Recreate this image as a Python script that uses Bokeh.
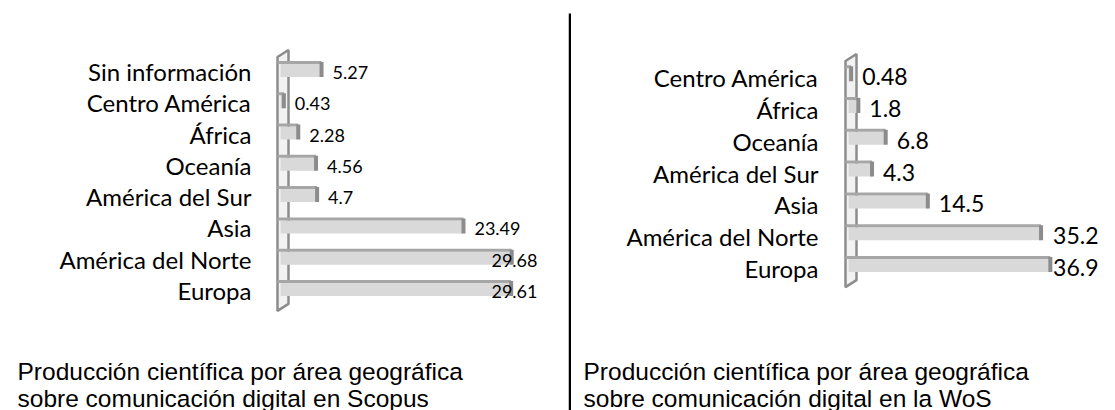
import numpy as np
from bokeh.plotting import figure
from bokeh.models import Range1d, Label
from bokeh.layouts import row
from bokeh.embed import file_html
from bokeh.resources import INLINE
from bokeh.core.properties import value

# ---------------- data ----------------
scopus_regions = ["Sin información", "Centro América", "África", "Oceanía",
                  "América del Sur", "Asia", "América del Norte", "Europa"]
scopus_values = [5.27, 0.43, 2.28, 4.56, 4.7, 23.49, 29.68, 29.61]

wos_regions = ["Centro América", "África", "Oceanía", "América del Sur",
               "Asia", "América del Norte", "Europa"]
wos_values = [0.48, 1.8, 6.8, 4.3, 14.5, 35.2, 36.9]

scopus_caption = ["Producción científica por área geográfica",
                  "sobre comunicación digital en Scopus"]
wos_caption = ["Producción científica por área geográfica",
               "sobre comunicación digital en la WoS"]

LABEL_FONT = "Lato"
CAPTION_FONT = "Liberation Sans"
BAR_FILL = "#d9d9d9"
BAR_TOP = "#a6a6a6"
BAR_CAP = "#8c8c8c"
WALL = "#8c8c8c"


def panel(regions, values, caption, W, H, X0, SX, Yb, SY, cat_dx, cat_dy,
          val_fs, val_dy, val_limit, cap_x, divider_px=None):
    n = len(regions)
    px = lambda d: d / SX          # pixel length -> x data units
    py = lambda d: d / SY          # pixel length -> y data units
    p = figure(width=W, height=H,
               x_range=Range1d(-X0 / SX, (W - X0) / SX),
               y_range=Range1d((Yb - H) / SY, Yb / SY),
               output_backend="svg", toolbar_location=None,
               x_axis_location=None, y_axis_location=None,
               min_border=0, outline_line_color=None)
    p.grid.visible = False
    ys = np.array([n - 1 - k for k in range(n)], dtype=float)
    vals = np.array(values, dtype=float)

    # 3-D wall
    top_i = n - 1 + 0.65
    bot_i = -0.46
    wx_l, wx_r = -px(3), px(8)
    p.patch([wx_l, wx_r, wx_r, wx_l],
            [bot_i - py(7), bot_i, top_i, top_i - py(7)],
            fill_color="#f2f2f2", line_color=WALL, line_width=2.5)

    # bars: body, top face, end cap
    p.hbar(y=ys, left=0, right=vals, height=py(13),
           fill_color=BAR_FILL, line_color=None)
    p.hbar(y=ys + py(8), left=wx_l, right=vals, height=py(3),
           fill_color=BAR_TOP, line_color=None)
    p.rect(x=vals, y=ys + py(1), width=4, width_units="screen",
           height=py(15), fill_color=BAR_CAP, line_color=None)

    # category labels
    p.text(x=0, y=ys, text=regions, x_offset=cat_dx, y_offset=cat_dy,
           text_align="right", text_baseline="middle",
           text_font=value(LABEL_FONT), text_font_size="24px",
           text_color="#000000")

    # value labels
    texts = [str(v) for v in values]
    normal_x, normal_y, normal_t = [], [], []
    edge_x, edge_y, edge_t = [], [], []
    for v, y, t in zip(vals, ys, texts):
        est_w = len(t) * 0.55 * val_fs
        if X0 + v * SX + 11 + est_w > val_limit:
            edge_x.append((val_limit - X0) / SX)
            edge_y.append(y)
            edge_t.append(t)
        else:
            normal_x.append(v)
            normal_y.append(y)
            normal_t.append(t)
    common = dict(text_baseline="middle", text_font=value(LABEL_FONT),
                  text_font_size=f"{val_fs}px", text_color="#000000",
                  y_offset=val_dy)
    if normal_t:
        p.text(x=normal_x, y=normal_y, text=normal_t, x_offset=11,
               text_align="left", **common)
    if edge_t:
        p.text(x=edge_x, y=edge_y, text=edge_t, x_offset=0,
               text_align="right", **common)

    # caption
    for k, line in enumerate(caption):
        p.add_layout(Label(x=cap_x, y=H - 371 - 27 * k, x_units="screen",
                           y_units="screen", text=line,
                           text_font=CAPTION_FONT, text_font_size="24.5px",
                           text_baseline="alphabetic", text_color="#000000"))

    # divider line between the two panels
    if divider_px is not None:
        xd = (divider_px - X0) / SX
        p.segment(x0=xd, y0=(Yb - 13) / SY, x1=xd, y1=(Yb - H) / SY,
                  line_color="#000000", line_width=2.5)
    return p


H = 410
p1 = panel(scopus_regions, scopus_values, scopus_caption,
           W=571, H=H, X0=280, SX=7.79, Yb=289, SY=31.3,
           cat_dx=-29, cat_dy=1, val_fs=18, val_dy=2, val_limit=537,
           cap_x=17, divider_px=569.5)
p2 = panel(wos_regions, wos_values, wos_caption,
           W=544, H=H, X0=277, SX=5.47, Yb=265, SY=31.8,
           cat_dx=-30, cat_dy=3, val_fs=23, val_dy=2, val_limit=527,
           cap_x=12)

layout = row(p1, p2)
open("out.html", "w").write(file_html(layout, INLINE))
